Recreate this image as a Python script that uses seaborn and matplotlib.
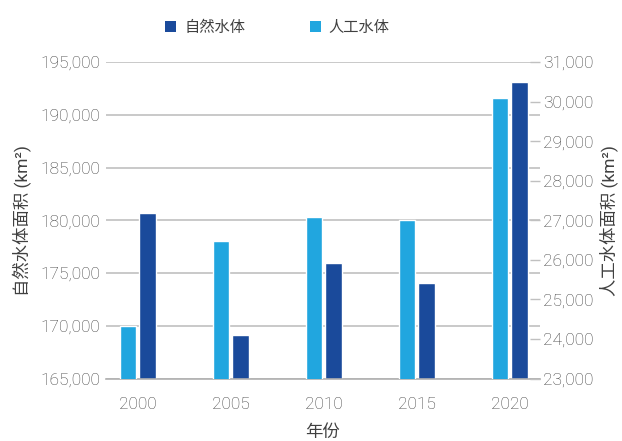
import numpy as np
import pandas as pd
import matplotlib
matplotlib.use("Agg")
import matplotlib.pyplot as plt
from matplotlib.patches import Patch
from matplotlib.ticker import FuncFormatter, MultipleLocator
import seaborn as sns

# ---- data ----
years = ["2000", "2005", "2010", "2015", "2020"]
natural = [180700, 169150, 175950, 174050, 193100]     # 自然水体 (left axis)
artificial = [24330, 26480, 27090, 27000, 30100]        # 人工水体 (right axis)
series_names = ["人工水体", "自然水体"]
legend_order = ["自然水体", "人工水体"]

dark = "#1a4a9b"
light = "#21a6df"
text_c = "#404040"
grid_c = "#c0c0c0"

rows = []
for y, n, a in zip(years, natural, artificial):
    rows.append({"year": y, "series": "人工水体", "nat": np.nan, "art": a})
    rows.append({"year": y, "series": "自然水体", "nat": n, "art": np.nan})
df = pd.DataFrame(rows)

sns.set_theme(style="white")
plt.rcParams["font.family"] = ["Roboto", "Noto Sans CJK SC", "DejaVu Sans"]
plt.rcParams["font.weight"] = "light"

fig = plt.figure(figsize=(6.22, 4.41), dpi=100)
ax1 = fig.add_axes([0.170, 0.1417, 0.698, 0.7177])
ax2 = ax1.twinx()

pal = {"人工水体": light, "自然水体": dark}
sns.barplot(data=df, x="year", y="nat", hue="series", hue_order=series_names,
            palette=pal, width=0.42, gap=0.15, errorbar=None, ax=ax1,
            legend=False, saturation=1)
sns.barplot(data=df, x="year", y="art", hue="series", hue_order=series_names,
            palette=pal, width=0.42, gap=0.15, errorbar=None, ax=ax2,
            legend=False, saturation=1)

ax1.set_xlim(-0.344, 4.323)
ax1.set_ylim(165000, 195000)
ax2.set_ylim(23000, 31000)
ax1.yaxis.set_major_locator(MultipleLocator(5000))
ax2.yaxis.set_major_locator(MultipleLocator(1000))
fmt = FuncFormatter(lambda v, p: f"{int(round(v)):,}")
ax1.yaxis.set_major_formatter(fmt)
ax2.yaxis.set_major_formatter(fmt)

ax1.set_axisbelow(True)
ax1.grid(axis="y", color=grid_c, linewidth=1.2)
ax1.grid(axis="x", visible=False)
ax2.grid(False)

for ax in (ax1, ax2):
    for s in ("top", "left", "right"):
        ax.spines[s].set_visible(False)
ax2.spines["bottom"].set_visible(False)
ax1.spines["bottom"].set_color("#b0b0b0")
ax1.spines["bottom"].set_linewidth(1.2)

fs = 12.5
ax1.tick_params(axis="y", length=0, pad=4, labelsize=fs, labelcolor=text_c)
ax1.tick_params(axis="x", length=0, pad=13, labelsize=fs, labelcolor=text_c)
ax2.tick_params(axis="y", direction="in", length=7, width=1, color=grid_c,
                pad=2, labelsize=fs, labelcolor=text_c)

ax1.set_xlabel("年份", fontsize=fs, color=text_c, labelpad=9)
ax1.set_ylabel("自然水体面积 (km²)", fontsize=fs, color=text_c, labelpad=6)
ax2.set_ylabel("人工水体面积 (km²)", fontsize=fs, color=text_c, labelpad=4)

handles = [Patch(facecolor=pal[s], edgecolor="none", label=s) for s in legend_order]
fig.legend(handles=handles, loc="center", bbox_to_anchor=(277.5 / 622, 1 - 28 / 441),
           ncol=2, frameon=False, fontsize=11, labelcolor=text_c,
           handlelength=0.72, handleheight=0.72, handletextpad=0.52,
           columnspacing=4.2)

fig.savefig("out.png", dpi=100)
